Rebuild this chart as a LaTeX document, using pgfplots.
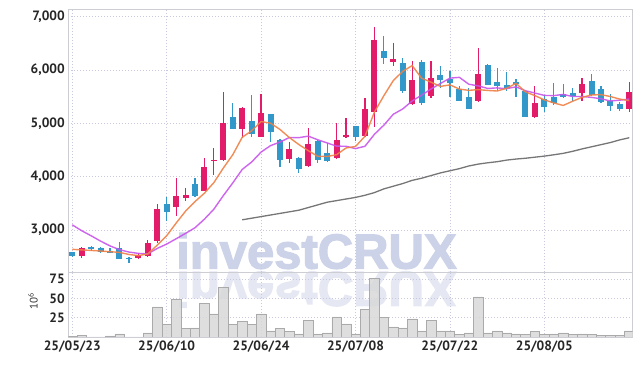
\documentclass[border=0pt]{standalone}
\usepackage{fontspec}
\setmainfont{PT Sans}
\newfontfamily\wmfont[FakeBold=2.5]{Liberation Sans}
\usepackage{pgfplots}
\pgfplotsset{compat=1.18}
\usepackage{pgfplotstable}
\definecolor{cRed}{RGB}{226,28,104}
\definecolor{cBlue}{RGB}{50,152,202}
\definecolor{cOrange}{RGB}{240,128,70}
\definecolor{cMag}{RGB}{200,85,235}
\definecolor{cGray}{RGB}{118,118,118}
\definecolor{gridc}{RGB}{200,200,222}
\definecolor{framec}{RGB}{205,205,212}
\definecolor{wm}{RGB}{204,211,232}
\definecolor{wmr}{RGB}{229,231,243}
\definecolor{volf}{RGB}{216,216,216}
\definecolor{vole}{RGB}{170,170,170}

\pgfplotstableread{
x o h l c
1 2509 2683 2472 2652
7 2472 2565 2453 2528
8 2503 2808 2484 2746
9 2789 3491 2746 3398
11 3437 3969 3269 3637
12 3600 3787 3550 3650
14 3737 4356 3737 4190
15 4287 4544 4040 4320
16 4319 5590 4287 5000
18 4890 5300 4730 5280
20 4749 5550 4740 5190
23 4331 4655 4250 4518
25 4205 4906 4186 4612
28 4343 5011 4325 4687
29 4737 5105 4718 4781
31 4762 5469 4749 5268
32 5218 6800 4937 6563
34 6160 6500 6081 6200
36 5357 6169 5344 5812
38 5521 6166 5469 5850
43 5417 6420 5395 5920
49 5110 5693 5092 5374
54 5564 5847 5417 5742
59 5276 5773 5221 5589
}\upT

\pgfplotstableread{
x o h l c
0 2580 2590 2500 2510
2 2671 2702 2597 2634
3 2652 2683 2571 2590
4 2610 2660 2560 2570
5 2652 2770 2447 2447
6 2475 2490 2375 2455
10 3487 3612 3175 3331
13 3869 3975 3620 3644
17 5110 5390 4885 4900
19 5043 5530 4743 4800
21 5175 5180 4655 4843
22 4687 4700 4186 4312
24 4355 4365 4062 4149
26 4668 4687 4250 4312
27 4437 4637 4280 4300
30 4950 4950 4674 4749
33 6357 6638 6107 6231
35 6137 6219 5563 5612
37 6150 6188 5344 5387
39 5908 6074 5663 5804
40 5834 5988 5491 5755
41 5638 5706 5417 5417
42 5491 5663 5270 5270
44 6092 6110 5712 5724
45 5773 6031 5613 5706
46 5724 5957 5601 5663
47 5785 5834 5491 5736
48 5601 5610 5123 5123
50 5466 5540 5221 5307
51 5491 5755 5344 5374
52 5552 5736 5478 5503
53 5577 5663 5417 5515
55 5798 5933 5515 5528
56 5650 5693 5380 5405
57 5417 5552 5233 5325
58 5356 5399 5233 5276
}\downT

\pgfplotstableread{
x m5 m10
0 2636 3095
1 2625 2985
2 2615 2890
3 2604 2790
4 2591 2700
5 2579 2630
6 2539 2585
7 2518 2560
8 2549 2550
9 2715 2653
10 2892 2735
11 3128 2834
12 3352 2935
13 3532 3041
14 3690 3203
15 3888 3390
16 4161 3644
17 4411 3882
18 4738 4135
19 4860 4275
20 5034 4461
21 5003 4582
22 4885 4648
23 4733 4735
24 4602 4731
25 4487 4760
26 4381 4692
27 4378 4632
28 4412 4572
29 4538 4570
30 4566 4526
31 4757 4569
32 5210 4794
33 5518 4965
34 5802 5170
35 5975 5270
36 6084 5420
37 5848 5529
38 5772 5645
39 5693 5748
40 5722 5848
41 5643 5863
42 5619 5734
43 5633 5703
44 5617 5655
45 5607 5665
46 5657 5650
47 5750 5685
48 5590 5612
49 5520 5569
50 5441 5524
51 5383 5520
52 5336 5543
53 5415 5503
54 5488 5504
55 5532 5487
56 5539 5461
57 5503 5420
58 5455 5435
59 5425 5456
}\maT

\pgfplotstableread{
x m60
18 3190
19 3220
20 3250
21 3280
22 3310
23 3340
24 3370
25 3420
26 3470
27 3520
28 3550
29 3580
30 3610
31 3650
32 3700
33 3770
34 3820
35 3870
36 3930
37 3970
38 4020
39 4070
40 4110
41 4150
42 4200
43 4235
44 4260
45 4280
46 4310
47 4330
48 4345
49 4365
50 4385
51 4410
52 4437
53 4475
54 4520
55 4560
56 4600
57 4640
58 4690
59 4730
}\grayT

\pgfplotstableread{
x v
0 0.5
1 1.7
2 0.3
3 0.3
4 1.5
5 4
6 0.3
7 0.3
8 5.5
9 39
10 16
11 49
12 11
13 12
14 44
15 30
16 64.5
17 16
18 20
19 16
20 30
21 8
22 11
23 7
24 4
25 22
26 4
27 5.5
28 26
29 17
30 4
31 36
32 76.5
33 25
34 13
35 12
36 23.5
37 8
38 22
39 8
40 8
41 3
42 5.5
43 52
44 5.5
45 8
46 5.5
47 4
48 3
49 7
50 3
51 4
52 5.5
53 3
54 4
55 3
56 1.7
57 1.7
58 1.7
59 8
}\volT

\pgfplotsset{
  mybase/.style={
    scale only axis, width=564.4pt, xmin=-0.42, xmax=59.36,
    anchor=south west,
    axis line style={framec, line width=0.8pt},
    grid=major, major grid style={gridc, dash pattern=on 1pt off 2pt, line width=0.7pt},
    major tick length=0pt, tick style={draw=none},
    xtick={0,10,20,30,40,50},
    ticklabel style={font=\bfseries\fontsize{13.5}{14}\selectfont, text=black!85},
    /pgf/number format/assume math mode=true,
  },
  candle/.style 2 args={draw=none, mark=none, forget plot,
    error bars/.cd, y dir=both, y explicit, error mark=none,
    error bar style={draw=#1, line width=#2}},
}

\begin{document}
\begin{tikzpicture}
\path[use as bounding box] (0pt,0pt) rectangle (642pt,366pt);
\node[anchor=base west, inner sep=0pt, text=wm, font=\wmfont\bfseries\fontsize{49}{49}\selectfont] at (176pt,97.5pt) {investCRUX};
\node[anchor=base west, inner sep=0pt, text=wmr, yscale=-1, transform shape, font=\wmfont\bfseries\fontsize{49}{49}\selectfont] at (176pt,94pt) {investCRUX};

\begin{axis}[mybase, at={(68.3pt,93.7pt)}, height=263pt,
  ymin=2205, ymax=7140, ytick={3000,4000,5000,6000,7000},
  xticklabels={},
  yticklabel style={/pgf/number format/.cd, fixed, 1000 sep={,}},
  scaled y ticks=false]
\addplot[candle={cRed}{1.2pt}] table[x=x, y expr={(\thisrow{h}+\thisrow{l})/2}, y error expr={(\thisrow{h}-\thisrow{l})/2}] {\upT};
\addplot[candle={cRed}{6pt}] table[x=x, y expr={(\thisrow{o}+\thisrow{c})/2}, y error expr={abs(\thisrow{c}-\thisrow{o})/2}] {\upT};
\addplot[candle={cBlue}{1.2pt}] table[x=x, y expr={(\thisrow{h}+\thisrow{l})/2}, y error expr={(\thisrow{h}-\thisrow{l})/2}] {\downT};
\addplot[candle={cBlue}{6pt}] table[x=x, y expr={(\thisrow{o}+\thisrow{c})/2}, y error expr={abs(\thisrow{c}-\thisrow{o})/2}] {\downT};
\addplot[cGray, line width=1.3pt, mark=none] table[x=x, y=m60] {\grayT};
\addplot[cMag, line width=1.4pt, mark=none, opacity=0.9] table[x=x, y=m10] {\maT};
\addplot[cOrange, line width=1.4pt, mark=none, opacity=0.9] table[x=x, y=m5] {\maT};
\end{axis}

\begin{axis}[mybase, at={(68.3pt,29pt)}, height=64.7pt,
  ymin=0, ymax=84, ytick={25,50,75},
  xticklabels={25/05/23,25/06/10,25/06/24,25/07/08,25/07/22,25/08/05}]
\addplot[ybar, bar width=1, fill=volf, draw=vole, line width=0.5pt, fill opacity=0.85] table[x=x, y=v] {\volT};
\end{axis}

\node[rotate=90, font=\fontsize{11}{11}\selectfont, text=black!80] at (33pt,65pt) {10\textsuperscript{6}};
\end{tikzpicture}
\end{document}
